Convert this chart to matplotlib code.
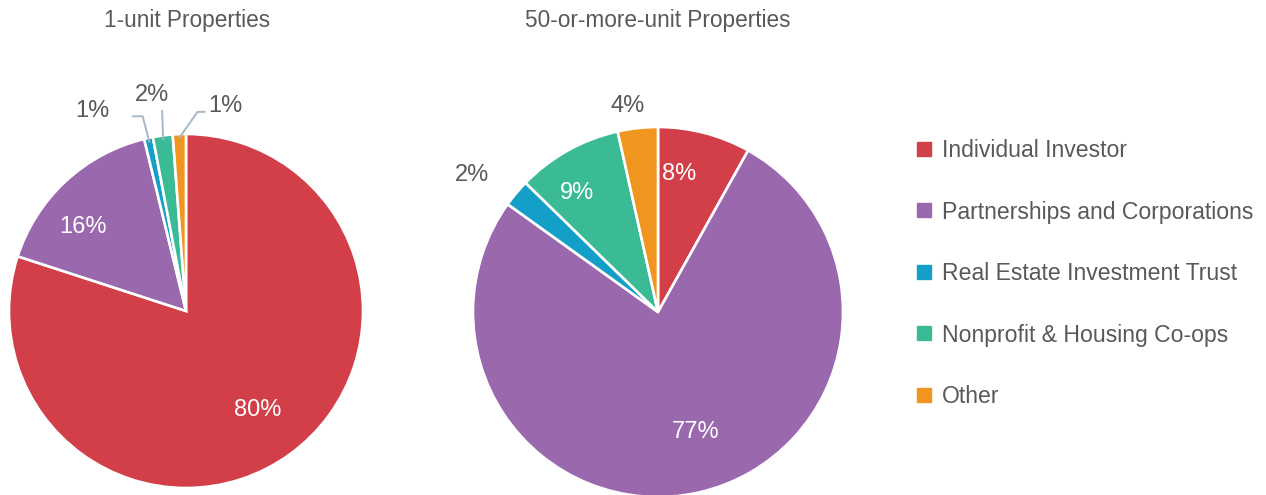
import matplotlib
matplotlib.use("Agg")
import matplotlib.pyplot as plt
from matplotlib.lines import Line2D
import numpy as np

categories = ["Individual Investor", "Partnerships and Corporations",
              "Real Estate Investment Trust", "Nonprofit & Housing Co-ops", "Other"]
one_unit = [80.0, 16.2, 0.8, 1.8, 1.2]
fifty_unit = [8.1, 76.8, 2.4, 9.2, 3.5]
one_unit_labels = ["80%", "16%", "1%", "2%", "1%"]
fifty_unit_labels = ["8%", "77%", "2%", "9%", "4%"]
titles = ["1-unit Properties", "50-or-more-unit Properties"]

colors = ["#D33F49", "#9A68AD", "#139FC7", "#3BBA96", "#F0951F"]
TXT = "#595959"
LEAD = "#A9B7C4"
plt.rcParams['font.family'] = ['Liberation Sans', 'DejaVu Sans']
FS_T = 16.3
FS_L = 17.0
FS_G = 16.6

W, H = 1266, 495
fig = plt.figure(figsize=(W / 100, H / 100), dpi=100)

def pie_axes(cx, cy, r):
    return fig.add_axes([(cx - r) / W, (H - cy - r) / H, 2 * r / W, 2 * r / H])

def fix(ax):
    ax.set_xlim(-1, 1)
    ax.set_ylim(-1, 1)
    ax.set_aspect('equal')
    ax.axis('off')

# label placement: (radius, angle offset deg, inside?)
one_style = [(0.69, 0, True), (0.75, 8, True), (None, None, False), (None, None, False), (None, None, False)]
one_outside = {2: (-0.53, 1.13), 3: (-0.19, 1.22), 4: (0.22, 1.16)}
one_elbow = {2: [(-0.30, 1.10), (-0.245, 1.10)], 3: [(-0.135, 1.13)], 4: [(0.105, 1.125), (0.065, 1.125)]}

fifty_style = [(0.755, 6, True), (0.68, 5, True), (1.25, 3.5, False), (0.78, 5, True), (1.125, 2, False)]

def draw(ax, vals, labels, style, outside=None, elbow=None):
    wedges, _ = ax.pie(vals, colors=colors, startangle=90, counterclock=False,
                       radius=1.0, wedgeprops=dict(edgecolor='white', linewidth=1.9))
    fix(ax)
    for i, w in enumerate(wedges):
        mid = np.deg2rad((w.theta1 + w.theta2) / 2)
        rr, off, inside = style[i]
        if rr is not None:
            a = mid + np.deg2rad(off)
            ax.text(rr * np.cos(a), rr * np.sin(a), labels[i], ha='center', va='center',
                    fontsize=FS_L, color='white' if inside else TXT, clip_on=False)
        else:
            x, y = outside[i]
            ax.text(x, y, labels[i], ha='center', va='center', fontsize=FS_L, color=TXT, clip_on=False)
            pts = elbow[i] + [(0.98 * np.cos(mid), 0.98 * np.sin(mid))]
            xs, ys = zip(*pts)
            ax.plot(xs, ys, color=LEAD, lw=1.4, clip_on=False)

ax1 = pie_axes(186, 311, 177)
draw(ax1, one_unit, one_unit_labels, one_style, one_outside, one_elbow)
ax2 = pie_axes(658, 312, 185)
draw(ax2, fifty_unit, fifty_unit_labels, fifty_style)

fig.text(187 / W, 1 - 20 / H, titles[0], ha='center', va='center', fontsize=FS_T, color=TXT)
fig.text(658 / W, 1 - 20 / H, titles[1], ha='center', va='center', fontsize=FS_T, color=TXT)

handles = [Line2D([], [], marker='s', ls='none', markersize=9.5, color=c) for c in colors]
leg = fig.legend(handles, categories, loc='upper left', bbox_to_anchor=(917 / W, 1 - 139 / H),
                 frameon=False, fontsize=FS_G, labelcolor=TXT, handlelength=0.65,
                 handletextpad=0.45, labelspacing=1.67, borderpad=0, borderaxespad=0)

fig.savefig("out.png", dpi=100)
